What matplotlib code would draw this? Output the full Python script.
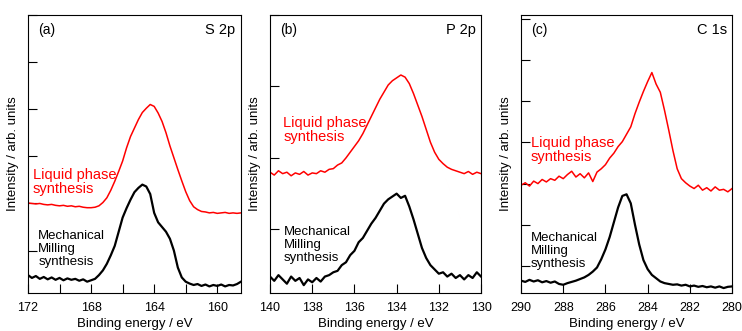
import numpy as np
import matplotlib
matplotlib.use('Agg')
import matplotlib.pyplot as plt
from matplotlib.ticker import MultipleLocator

plt.rcParams['font.family'] = ['Liberation Sans', 'DejaVu Sans']

# Energy grids (start, stop) of each scan, high -> low binding energy
s2p_range = (172.0, 158.5)
p2p_range = (140.0, 130.0)
c1s_range = (290.0, 280.0)

# S 2p, 0.25 eV step
s2p_liquid = [1.01, 1.00, 0.99, 1.00, 0.98, 0.97, 0.98, 0.96, 0.95, 0.96, 0.94, 0.95,
              0.93, 0.94, 0.92, 0.91, 0.91, 0.92, 0.95, 1.02, 1.12, 1.28, 1.47, 1.68,
              1.90, 2.18, 2.42, 2.60, 2.78, 2.93, 3.02, 3.10, 3.06, 2.92, 2.74, 2.50,
              2.22, 1.97, 1.72, 1.48, 1.25, 1.06, 0.93, 0.87, 0.83, 0.82, 0.80, 0.81,
              0.79, 0.80, 0.81, 0.79, 0.80, 0.79, 0.80]
s2p_milling = [-0.52, -0.58, -0.54, -0.60, -0.56, -0.61, -0.57, -0.62, -0.58, -0.63, -0.59, -0.62,
               -0.60, -0.64, -0.61, -0.66, -0.63, -0.60, -0.52, -0.42, -0.28, -0.10, 0.10, 0.40,
               0.70, 0.90, 1.08, 1.24, 1.33, 1.40, 1.36, 1.20, 0.80, 0.60, 0.50, 0.40,
               0.25, 0.00, -0.36, -0.57, -0.66, -0.70, -0.73, -0.71, -0.75, -0.72, -0.76, -0.73,
               -0.75, -0.72, -0.76, -0.73, -0.74, -0.71, -0.66]

# P 2p, 0.2 eV step
p2p_liquid = [0.80, 0.76, 0.82, 0.78, 0.80, 0.75, 0.79, 0.77, 0.81, 0.76, 0.79, 0.78,
              0.82, 0.80, 0.84, 0.85, 0.90, 0.93, 1.00, 1.08, 1.16, 1.24, 1.34, 1.46,
              1.58, 1.70, 1.82, 1.92, 2.02, 2.08, 2.12, 2.16, 2.13, 2.04, 1.90, 1.74,
              1.58, 1.40, 1.22, 1.08, 0.98, 0.92, 0.87, 0.84, 0.82, 0.80, 0.78, 0.81,
              0.77, 0.80, 0.78]
p2p_milling = [-0.66, -0.72, -0.64, -0.70, -0.76, -0.66, -0.72, -0.68, -0.78, -0.70, -0.74, -0.68,
               -0.73, -0.66, -0.64, -0.60, -0.58, -0.50, -0.46, -0.36, -0.30, -0.18, -0.12, -0.02,
               0.08, 0.16, 0.26, 0.36, 0.42, 0.46, 0.50, 0.44, 0.47, 0.32, 0.14, -0.06,
               -0.26, -0.40, -0.50, -0.56, -0.62, -0.60, -0.66, -0.62, -0.68, -0.64, -0.70, -0.64,
               -0.68, -0.60, -0.66]

# C 1s, 0.2 eV step
c1s_liquid = [1.96, 2.02, 1.94, 2.06, 2.00, 2.10, 2.04, 2.12, 2.08, 2.18, 2.12, 2.22,
              2.30, 2.16, 2.24, 2.14, 2.26, 2.05, 2.28, 2.36, 2.46, 2.62, 2.74, 2.90,
              3.02, 3.20, 3.38, 3.70, 3.98, 4.24, 4.48, 4.70, 4.42, 4.22, 3.78, 3.30,
              2.80, 2.36, 2.12, 2.02, 1.94, 1.88, 1.96, 1.84, 1.90, 1.82, 1.92, 1.84,
              1.86, 1.80, 1.88]
c1s_milling = [-0.36, -0.39, -0.34, -0.38, -0.35, -0.40, -0.37, -0.41, -0.38, -0.44, -0.46, -0.42,
               -0.39, -0.36, -0.32, -0.28, -0.22, -0.14, -0.04, 0.16, 0.40, 0.70, 1.06, 1.42,
               1.70, 1.74, 1.52, 1.00, 0.52, 0.14, -0.08, -0.22, -0.30, -0.38, -0.42, -0.44,
               -0.46, -0.45, -0.48, -0.46, -0.50, -0.48, -0.51, -0.49, -0.52, -0.50, -0.53, -0.50,
               -0.54, -0.51, -0.50]


def draw_panel(ax, xr, liquid, milling, letter, core, ylim, yticks,
               major, minor, liquid_pos, milling_pos):
    x_l = np.linspace(xr[0], xr[1], len(liquid))
    x_m = np.linspace(xr[0], xr[1], len(milling))
    ax.plot(x_l, liquid, color='#ff0000', lw=1.1)
    ax.plot(x_m, milling, color='black', lw=1.6)

    ax.set_xlim(xr[0], xr[1])
    ax.set_ylim(*ylim)
    ax.set_yticks(yticks)
    ax.set_yticklabels([])
    ax.xaxis.set_major_locator(MultipleLocator(major))
    if minor:
        ax.xaxis.set_minor_locator(MultipleLocator(minor))
    ax.tick_params(axis='both', which='both', direction='in', length=6.5, width=0.8,
                   top=False, right=False, labelsize=9, pad=6.5)
    for sp in ax.spines.values():
        sp.set_linewidth(0.8)

    # the label runs down to the bottom edge, as in the original
    ax.set_xlabel('Binding energy / eV', fontsize=9.5, labelpad=2.5)
    ax.set_ylabel('Intensity / arb. units', fontsize=9.5, labelpad=0)

    ax.text(0.05, 0.945, letter, transform=ax.transAxes, fontsize=10, va='center', ha='left')
    ax.text(0.975, 0.945, core, transform=ax.transAxes, fontsize=10.5, va='center', ha='right')
    ax.text(liquid_pos[0], liquid_pos[1], 'Liquid phase\nsynthesis', transform=ax.transAxes,
            color='#ff0000', fontsize=10.5, va='center', ha='left', linespacing=1.05)
    ax.text(milling_pos[0], milling_pos[1], 'Mechanical\nMilling\nsynthesis', transform=ax.transAxes,
            color='black', fontsize=9.5, va='center', ha='left', linespacing=1.1)


fig = plt.figure(figsize=(7.42, 3.31), dpi=100)
ax_a = fig.add_axes([0.0377, 0.1148, 0.287, 0.840])
ax_b = fig.add_axes([0.3639, 0.1148, 0.2844, 0.840])
ax_c = fig.add_axes([0.7022, 0.1148, 0.2844, 0.840])

draw_panel(ax_a, s2p_range, s2p_liquid, s2p_milling, '(a)', 'S 2p',
           (-0.9, 5.0), range(0, 6), 4, 2, (0.022, 0.40), (0.048, 0.158))
draw_panel(ax_b, p2p_range, p2p_liquid, p2p_milling, '(b)', 'P 2p',
           (-0.89, 3.0), range(0, 4), 2, None, (0.063, 0.586), (0.066, 0.173))
draw_panel(ax_c, c1s_range, c1s_liquid, c1s_milling, '(c)', 'C 1s',
           (-0.66, 6.1), range(0, 7), 2, None, (0.045, 0.514), (0.046, 0.151))

plt.savefig('out.png', dpi=100)
plt.close()
